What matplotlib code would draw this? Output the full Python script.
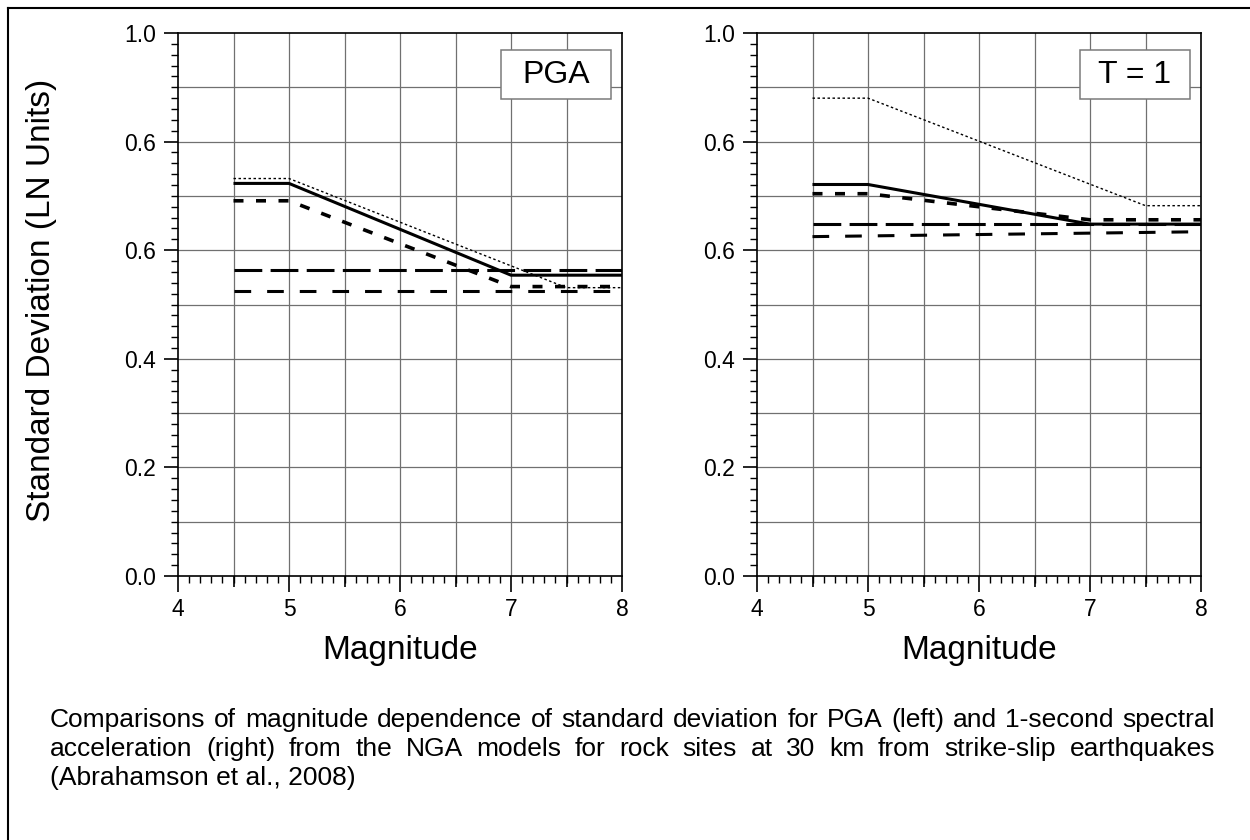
import numpy as np
import matplotlib
matplotlib.use("Agg")
import matplotlib.pyplot as plt
from matplotlib.ticker import FixedLocator, MultipleLocator
from matplotlib.patches import Rectangle
from matplotlib.lines import Line2D

plt.rcParams['font.family'] = ['Liberation Sans', 'DejaVu Sans']
plt.rcParams['lines.scale_dashes'] = False

# ---- data: standard deviation (LN units) vs magnitude ----
pga_solid_m = [4.5, 5.0, 7.0, 8.0]
pga_solid_sd = [0.723, 0.723, 0.554, 0.554]
pga_dotted_m = [4.5, 5.0, 7.5, 8.0]
pga_dotted_sd = [0.732, 0.732, 0.531, 0.531]
pga_short_m = [4.5, 5.0, 7.0, 8.0]
pga_short_sd = [0.691, 0.691, 0.533, 0.533]
pga_long_m = [4.5, 8.0]
pga_long_sd = [0.564, 0.564]
pga_med_m = [4.5, 8.0]
pga_med_sd = [0.525, 0.525]

t1_solid_m = [4.5, 5.0, 7.0, 8.0]
t1_solid_sd = [0.721, 0.721, 0.648, 0.648]
t1_dotted_m = [4.5, 5.0, 7.5, 8.0]
t1_dotted_sd = [0.880, 0.880, 0.682, 0.682]
t1_short_m = [4.5, 5.0, 7.0, 8.0]
t1_short_sd = [0.704, 0.704, 0.656, 0.656]
t1_long_m = [4.5, 8.0]
t1_long_sd = [0.648, 0.648]
t1_med_m = [4.5, 8.0]
t1_med_sd = [0.625, 0.634]

x_ticks = [4, 5, 6, 7, 8]
x_tick_labels = ["4", "5", "6", "7", "8"]
y_ticks = [0.0, 0.2, 0.4, 0.6, 0.8, 1.0]
y_tick_labels = ["0.0", "0.2", "0.4", "0.6", "0.6", "1.0"]
panel_titles = ["PGA", "T = 1"]

caption_lines = [
    "Comparisons of magnitude dependence of standard deviation for PGA (left) and 1-second spectral",
    "acceleration (right) from the NGA models for rock sites at 30 km from strike-slip earthquakes",
    "(Abrahamson et al., 2008)",
]

# ---- styles ----
STYLES = {
    "solid": dict(color="black", lw=2.2, linestyle="-"),
    "dotted": dict(color="black", lw=1.0, dashes=(1.8, 1.8)),
    "short": dict(color="black", lw=2.6, dashes=(7.2, 9.0)),
    "long": dict(color="black", lw=2.2, dashes=(20.0, 6.0)),
    "med": dict(color="black", lw=2.2, dashes=(12.0, 11.5)),
}

W, H = 1250, 840
fig = plt.figure(figsize=(W / 100, H / 100), dpi=100)


def px_axes(x0, x1, y_top, y_bot):
    return [x0 / W, 1 - y_bot / H, (x1 - x0) / W, (y_bot - y_top) / H]


ax_l = fig.add_axes(px_axes(178, 622, 33, 576))
ax_r = fig.add_axes(px_axes(757, 1201, 33, 576))

panels = [
    (ax_l, panel_titles[0], [
        (pga_long_m, pga_long_sd, "long"),
        (pga_med_m, pga_med_sd, "med"),
        (pga_short_m, pga_short_sd, "short"),
        (pga_dotted_m, pga_dotted_sd, "dotted"),
        (pga_solid_m, pga_solid_sd, "solid"),
    ]),
    (ax_r, panel_titles[1], [
        (t1_long_m, t1_long_sd, "long"),
        (t1_med_m, t1_med_sd, "med"),
        (t1_short_m, t1_short_sd, "short"),
        (t1_dotted_m, t1_dotted_sd, "dotted"),
        (t1_solid_m, t1_solid_sd, "solid"),
    ]),
]

grid_color = "#707070"
for ax, title, series in panels:
    ax.set_xlim(4, 8)
    ax.set_ylim(0, 1)

    # grid every 0.5 in magnitude and 0.1 in sigma
    for gx in np.arange(4.5, 8.0, 0.5):
        ax.axvline(gx, color=grid_color, lw=0.9, zorder=0)
    for gy in np.arange(0.1, 1.0, 0.1):
        ax.axhline(gy, color=grid_color, lw=0.9, zorder=0)

    for m, sd, key in series:
        ax.plot(m, sd, solid_capstyle="butt", dash_capstyle="butt", zorder=3, **STYLES[key])

    for s in ax.spines.values():
        s.set_linewidth(1.2)
        s.set_color("black")

    ax.xaxis.set_major_locator(FixedLocator(x_ticks))
    ax.set_xticklabels(x_tick_labels)
    ax.xaxis.set_minor_locator(MultipleLocator(0.1))
    ax.yaxis.set_major_locator(FixedLocator(y_ticks))
    ax.set_yticklabels(y_tick_labels)
    ax.yaxis.set_minor_locator(MultipleLocator(0.02))
    ax.tick_params(axis="x", which="major", direction="out", length=11.5, width=1.2,
                   labelsize=16.5, pad=4)
    ax.tick_params(axis="x", which="minor", direction="out", length=5, width=1.0)
    ax.tick_params(axis="y", which="major", direction="out", length=10, width=1.2,
                   labelsize=16.5, pad=6)
    ax.tick_params(axis="y", which="minor", direction="out", length=5, width=1.0)

    # intermediate ticks at half magnitudes
    sec = ax.secondary_xaxis("bottom")
    sec.set_xticks(np.arange(4.5, 8.0, 1.0))
    sec.set_xticklabels([])
    sec.tick_params(axis="x", direction="out", length=8, width=1.2)
    sec.spines["bottom"].set_visible(False)

    # boxed panel label
    ax.add_patch(Rectangle((6.91, 0.878), 0.99, 0.091, facecolor="white",
                           edgecolor="#7a7a7a", lw=1.1, zorder=5))
    ax.text(7.405, 0.9235, title, fontsize=23, ha="center", va="center", zorder=6)

    # axis title under each panel
    pos = ax.get_position()
    fig.text(pos.x0 + pos.width / 2, 1 - 659 / H, "Magnitude", fontsize=24,
             ha="center", va="baseline")

fig.text(42 / W, 1 - 300 / H, "Standard Deviation (LN Units)", fontsize=24,
         rotation=90, ha="center", va="center")

# page frame (left and top edges)
fig.add_artist(Line2D([8 / W, 8 / W], [0, 1 - 8 / H], transform=fig.transFigure,
                      color="black", lw=1.5))
fig.add_artist(Line2D([8 / W, 1.0], [1 - 8 / H, 1 - 8 / H], transform=fig.transFigure,
                      color="black", lw=1.5))

# justified caption
renderer = fig.canvas.get_renderer()
cap_size = 19
cap_left, cap_right = 50, 1215
baselines = [727, 756, 785]


def justified(line, y_px):
    words = line.split()
    texts = [fig.text(0, 1 - y_px / H, w, fontsize=cap_size, ha="left", va="baseline")
             for w in words]
    widths = [t.get_window_extent(renderer).width for t in texts]
    gap = (cap_right - cap_left - sum(widths)) / (len(words) - 1)
    x = cap_left
    for t, w in zip(texts, widths):
        t.set_x(x / W)
        x += w + gap


justified(caption_lines[0], baselines[0])
justified(caption_lines[1], baselines[1])
fig.text(cap_left / W, 1 - baselines[2] / H, caption_lines[2], fontsize=cap_size,
         ha="left", va="baseline")

fig.savefig("out.png", dpi=100)
